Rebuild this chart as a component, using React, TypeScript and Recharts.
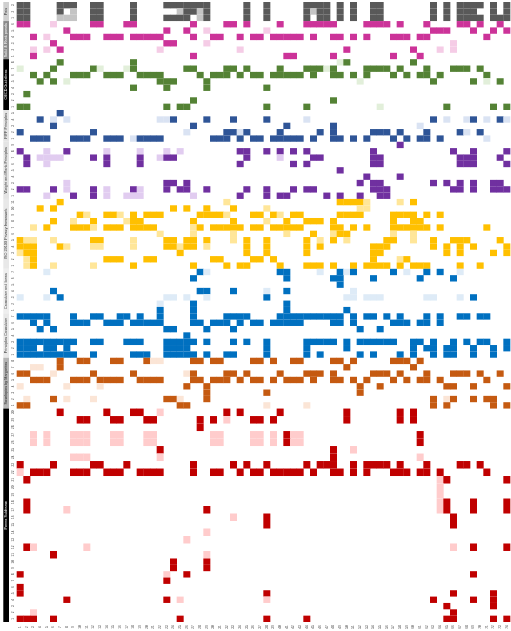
import React from "react";
import { BarChart, Bar, XAxis, YAxis } from "recharts";

type Row = [number[], number[]]; // [dark columns, pale columns]

const paisRows: Row[] = [
  [[1,2,7,8,9,12,13,18,23,24,25,26,27,28,29,35,38,44,45,46,47,49,51,54,55,63,65,67,68,69,70,72,74], []],
  [[1,2,7,12,13,18,26,27,29,35,38,44,46,47,49,51,54,55,63,65,67,68,69,72,74], [9,25,28,45]],
  [[1,2,12,13,18,23,24,25,26,29,35,38,44,46,47,49,51,54,55,63,65,67,68,69,70,72,73,74], [7,8,9,28]],
];

const solidRows: Row[] = [
  [[1,2,12,13,17,18,27,32,33,35,40,44,45,46,47,48,53,54,55,56,58,62,67,68,70,73], [6]],
  [[8,23,26,63,64,65,69,72,74], [29,38]],
  [[3,9,10,11,14,15,16,18,19,20,21,22,27,30,31,34,36,37,39,40,41,42,43,45,48,49,51,53,57,58,59,61,62,71], [5]],
  [[6,23,24], [29,66]],
  [[7,50,60], [3,5,22,34,64,66]],
  [[3,27,41,42,48,57,61], []],
];

const oecdRows: Row[] = [
  [[7,18,50,60], [49]],
  [[6,12,18,26,27,32,33,35,40,44,45,46,48,53,54,55,56,58,62,66,67,68,70], [1,13,17,47]],
  [[3,5,9,10,11,14,15,16,19,20,21,22,28,30,31,32,34,36,37,39,40,41,42,43,45,48,49,51,53,57,59,61,62,64,71], []],
  [[4,6,22,23,24,29,63,69,73], [8,52,71]],
  [[18,23,29,38], []],
  [[2], []],
  [[27,48], []],
  [[1,2,23,25,26,38,44,65,72,74], [55]],
];

const fippRows: Row[] = [
  [[7], []],
  [[4,24,29,33,38,63,69,73], [6,8,22,23,44,65,68,71,74]],
  [[6,27,41,48], [61]],
  [[1,12,32,33,35,40,46,48,54,55,56,58,62,67,70], [26,34,68]],
  [[3,4,5,9,10,11,14,15,16,19,20,21,22,30,31,32,34,36,37,39,40,41,42,43,45,48,49,51,53,57,59,61,62,64], [18,71]],
];

const weightRows: Row[] = [
  [[58], []],
  [[1,8,34,35,38,40,42,44,54,66,69,74], [5,14,19,23,25]],
  [[2,12,14,19,23,24,35,45,46,54,55,67,68,69,73], [4,5,6,7,22,40]],
  [[2,14,19,34,42,44,54,55,67,68,69,74], [5]],
  [[49], []],
  [[53,58], []],
  [[23,24,26,52,54,55,63,65,67,69,72,73], [8]],
  [[1,2,6,12,18,23,25,26,29,35,38,42,44,45,54,55,56,66,67,69,72,73,74], [8,14,19]],
  [[9,12,34,38,40,41,47,49,52,55,56], [5,14,17,18,19,27]],
];

const isoRows: Row[] = [
  [[7,49,50,51,52,60], [32,53,58]],
  [[4,6,24,26,29,33], [38,52,53]],
  [[10,14,15,18,20,21,22,28,29,30,31,36,37,39,42,43,49,50,51,52,57,58,59,60,62,64], [11,16,32,40]],
  [[6,12,18,19,27,33,41,44,45,46,48,57,60,61], [9,17,38]],
  [[5,9,10,11,14,15,16,18,19,20,21,28,30,31,32,33,34,36,37,39,40,41,42,43,48,49,51,53,57,58,59,60,61,62,64,71], [3,12,27]],
  [[45,49,50], [22,27,33,41,48,57,60]],
  [[1,12,13,23,24,26,27,29,35,38,44,48,56,57,63,66,67,68,73], [2,3,6,18,33,46,50,60]],
  [[1,2,3,7,23,24,26,27,35,38,44,46,54,55,56,63,65,67,69,74], [8,12,13,18,25,29]],
  [[2,3,25,35,38,44,54,55,65,67,72,74], [1]],
  [[3,14,15,16,20,21,30,31,36,37,39,54,59], [2,58]],
  [[3,18,27,32,34,35,40,44,45,46,48,51,53,54,55,56,58,60,61,62,67,70], [2,6,12]],
];

const ionasRows: Row[] = [
  [[28,40,41,49,51,57,62,64], [5,29,46,50,59,67]],
  [[27,41,48,49,54,61,66], []],
  [[49], []],
  [[6,28,29,33,41], [38,51]],
  [[7,38,69], [1,5,23,24,26,29,50,51,53,54,55,62,63,67]],
  [[27,41], [22]],
  [[22,27,41,50], []],
];

const cavoukianRows: Row[] = [
  [[1,2,3,4,5,9,12,13,16,17,19,22,27,32,33,34,35,40,41,42,43,44,45,46,47,48,49,51,53,54,56,58,62,64,67,68,70,71], []],
  [[3,5,9,10,11,14,15,16,18,19,20,21,22,27,28,30,31,32,34,36,37,39,40,41,42,43,48,49,51,57,58,59,61,62,64], []],
  [[4,6,23,24,29,33,52,55], []],
  [[26], []],
  [[1,2,3,4,5,6,7,8,9,12,13,17,18,19,23,24,25,26,27,29,33,35,38,44,45,46,47,48,50,52,53,54,55,56,57,60,61,63,66,68,70,71,74], []],
  [[1,2,3,5,6,8,23,24,25,26,38,44,50,60,62,63,65,66,69,72,74], []],
  [[1,2,3,4,5,6,7,8,9,12,18,19,20,23,24,25,26,27,29,32,33,38,44,46,52,54,58,60,63,65,66,69,72], []],
];

const sovelapiesRows: Row[] = [
  [[7,10,11,15,16,20,27,28,30,31,36,37,39,42,43,48,49,51,57,58,59,61], [21,22]],
  [[7,50,60], [3,4]],
  [[1,2,12,18,27,32,33,35,40,44,45,46,48,54,55,56,58,62,66,67,68,70,73], [6,26]],
  [[3,4,5,9,10,11,13,14,15,16,19,20,21,22,27,28,30,31,32,34,36,37,39,41,42,43,45,48,49,51,53,57,59,61,62,64,71], []],
  [[26,29,52,55,65,66,69,74], [1,8,13]],
  [[29,38,52], []],
  [[6,23,24,29,63,66,69,71,72], [2,8,12,25,65]],
  [[1,2,25,26,63,65,72,74], [38,44]],
];

const pennaTallRows: Row[] = [
  [[7,14,18,19,32,34,40,50,58,60], [22]],
  [[10,11,15,16,20,21,28,30,36,37,39,50,58,60], [32]],
  [[28], []],
  [[41,61], [3,5,9,10,11,15,16,20,21,30,31,36,37,39,42,43]],
  [[41,61], [3,5,9,10,11,15,16,20,21,30,31,36,37,39,42,43]],
  [[22,48], [51]],
  [[48], [9,10,11,22,61]],
  [[1,6,12,13,17,27,33,35,38,44,46,47,48,51,53,54,55,56,58,62,67,68,70], []],
  [[3,4,5,9,10,11,14,15,16,19,20,21,22,27,30,31,34,36,37,39,40,41,42,43,45,48,49,51,53,57,58,59,61,62,64,71], [1]],
  [[2,65,74], [64]],
  [[], [64]],
  [[], [64]],
  [[2,65,69,74], [64]],
  [[2,29,65,69,74], [8,64]],
  [[38,66], [33]],
  [[38,66], []],
  [[], [29]],
  [[], [26]],
  [[2,69,74], [3,11,66]],
  [[6], [29]],
];

const pennaShortRows: Row[] = [
  [[24,29], []],
  [[24,29], []],
  [[1,26,69], [23]],
  [[23], []],
  [[1], []],
  [[1,38,66,72], []],
  [[8,23,63,69,72], [25,38]],
  [[65,72], []],
  [[66], [3]],
  [[1,2,3,6,25,38,44,65,66,72,74], []],
];

const columns = [
  "1","2","3","4","5","6","7","8","9","10","11","12","13","14","15","16","17","18","19",
  "20","21","22","23","24","25","26","27","28","29","30","31","32","33","34","35","36","37",
  "38","39","40","41","42","43","44","45","46","47","48","49","50","51","52","53","54","55",
  "56","57","58","59","60","61","62","63","64","65","66","67","68","69","70","71","72","73","74",
];

const groups = [
  { name: "Pais", rows: paisRows, dark: "#595959", pale: "#c4c4c4", strip: "#cfcfcf", ink: "#333" },
  { name: "Solid & Rank panels", rows: solidRows, dark: "#cc3399", pale: "#f5cce6", strip: "#8a8a8a", ink: "#fff" },
  { name: "OECD Guidelines", rows: oecdRows, dark: "#548235", pale: "#e2efda", strip: "#000", ink: "#fff" },
  { name: "FIPP Principles", rows: fippRows, dark: "#2f5597", pale: "#dae3f3", strip: "#e4e4e4", ink: "#333" },
  { name: "Weight and Rank Principles", rows: weightRows, dark: "#7030a0", pale: "#e1ccf0", strip: "#e4e4e4", ink: "#333" },
  { name: "ISO 29100 Privacy framework", rows: isoRows, dark: "#ffc000", pale: "#ffe699", strip: "#e8e8e8", ink: "#333" },
  { name: "Cavoukian and Ionas", rows: ionasRows, dark: "#0070c0", pale: "#deebf7", strip: "#eeeeee", ink: "#333" },
  { name: "Principles Cavoukian", rows: cavoukianRows, dark: "#0070c0", pale: "#deebf7", strip: "#e8e8e8", ink: "#333" },
  { name: "Sovelapies by Margaritas", rows: sovelapiesRows, dark: "#c55a11", pale: "#fbe5d6", strip: "#b5b5b5", ink: "#222" },
  { name: "Penna Subframe", rows: [...pennaTallRows, ...pennaShortRows], dark: "#c00000", pale: "#ffcccc", strip: "#000", ink: "#fff" },
];

const TALL = 1.18;
const plotHeight = 620;

// one flat list of rows, top to bottom, with a band size for the stack
const rows: any[] = [];
let total = 0;
groups.forEach((g) => {
  const first = rows.length;
  const start = total;
  g.rows.forEach((row, i) => {
    const tall = g.name === "Penna Subframe" && i < pennaTallRows.length;
    const span = tall ? TALL : 1;
    rows.push({
      key: `row${rows.length}`,
      label: String(g.rows.length - i),
      center: total + span / 2,
      span,
      dark: row[0],
      pale: row[1],
      group: g,
    });
    total += span;
  });
  rows[first].strip = { name: g.name, fill: g.strip, ink: g.ink, span: total - start };
});

const table = columns.map((col) => {
  const entry: any = { col };
  rows.forEach((r) => {
    entry[r.key] = r.span;
  });
  return entry;
});

const rowByCenter: any = {};
rows.forEach((r) => {
  rowByCenter[r.center] = r;
});

const font = "'Liberation Sans', sans-serif";

function RowTick({ x, y, payload }: any) {
  const row = rowByCenter[payload.value];
  const unit = plotHeight / total;
  const strip = row.strip;
  const top = y - (row.span * unit) / 2;
  const h = strip ? strip.span * unit : 0;
  return (
    <g>
      {strip && <rect x={3.3} y={top} width={5.7} height={h} fill={strip.fill} />}
      {strip && (
        <text
          x={0}
          y={0}
          transform={`translate(6.15,${top + h / 2}) rotate(-90)`}
          textAnchor="middle"
          dominantBaseline="central"
          fontSize={3.8}
          fontFamily={font}
          fill={strip.ink}
        >
          {strip.name}
        </text>
      )}
      <text
        x={0}
        y={0}
        transform={`translate(13.4,${y}) rotate(-90)`}
        textAnchor="middle"
        dominantBaseline="central"
        fontSize={3.2}
        fontFamily={font}
        fill="#444"
      >
        {row.label}
      </text>
    </g>
  );
}

function ColTick({ x, y, payload }: any) {
  return (
    <text
      x={0}
      y={0}
      transform={`translate(${x},${y + 5}) rotate(-90)`}
      textAnchor="middle"
      dominantBaseline="central"
      fontSize={3.2}
      fontFamily={font}
      fill="#444"
    >
      {payload.value}
    </text>
  );
}

// the y axis runs top-down, so the bar's height comes through negative
const cellShape = (r: any) => (props: any) => {
  const col = Number(props.payload.col);
  const isDark = r.dark.includes(col);
  if (!isDark && !r.pale.includes(col)) return <g />;
  return (
    <rect
      x={props.x}
      y={Math.min(props.y, props.y + props.height)}
      width={props.width}
      height={Math.abs(props.height)}
      fill={isDark ? r.group.dark : r.group.pale}
    />
  );
};

export default function App() {
  return (
    <div style={{ position: "fixed", left: 0, top: 0, width: 511, height: 631, background: "#fff", filter: "blur(0.3px)" }}>
      <BarChart
        width={511}
        height={631}
        data={table}
        margin={{ top: 2, right: 1, bottom: 0, left: 0 }}
        barCategoryGap={0}
        barGap={0}
      >
        <XAxis
          dataKey="col"
          interval={0}
          height={9}
          tickLine={false}
          axisLine={false}
          tickSize={0}
          tickMargin={0}
          tick={<ColTick />}
        />
        <YAxis
          type="number"
          reversed
          domain={[0, total]}
          ticks={rows.map((r) => r.center)}
          interval={0}
          width={16.67}
          tickLine={false}
          axisLine={false}
          tickSize={0}
          tickMargin={0}
          tick={<RowTick />}
        />
        {rows.map((r) => (
          <Bar
            key={r.key}
            dataKey={r.key}
            stackId="cells"
            isAnimationActive={false}
            shape={cellShape(r)}
          />
        ))}
      </BarChart>
    </div>
  );
}
